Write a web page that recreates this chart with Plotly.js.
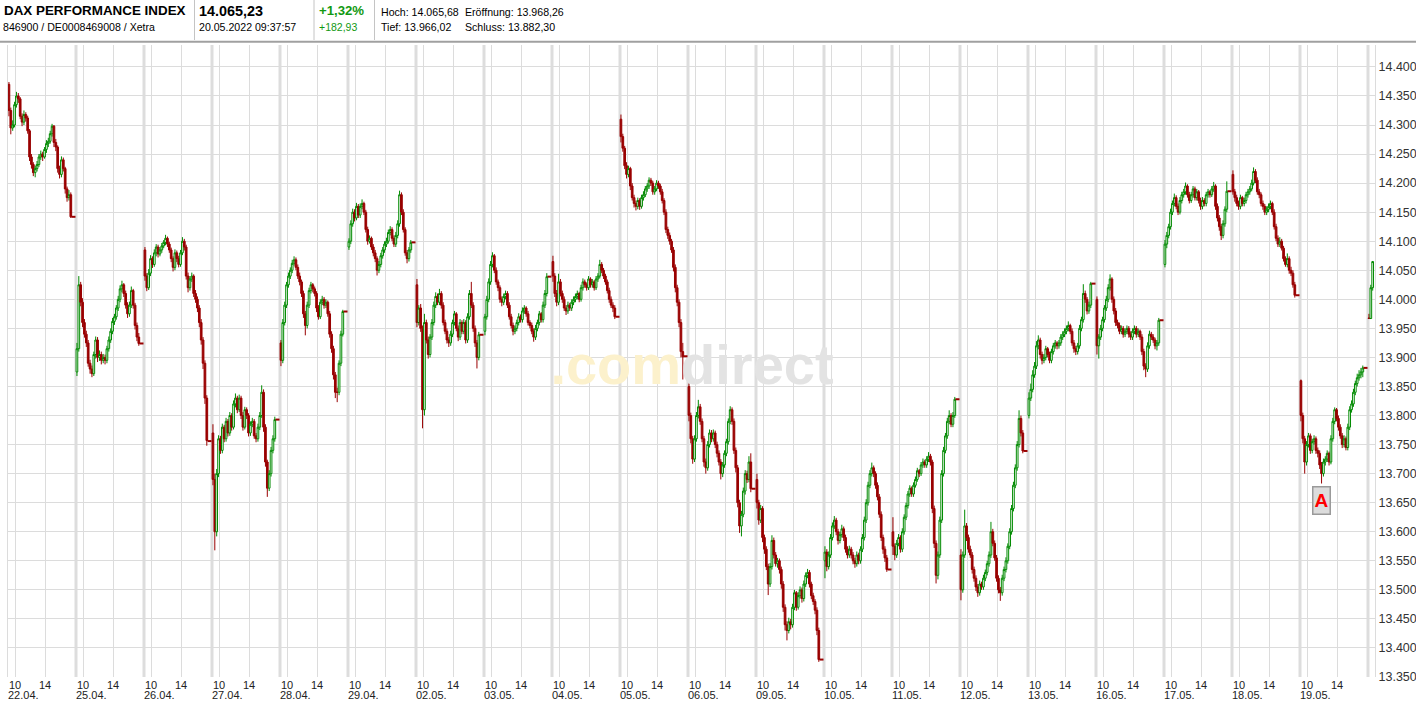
<!DOCTYPE html>
<html>
<head>
<meta charset="utf-8">
<script src="https://cdn.plot.ly/plotly-3.0.1.min.js"></script>
<style>
html,body{margin:0;padding:0;background:#ffffff;}
#chart{width:1416px;height:705px;}
</style>
</head>
<body>
<div id="chart"></div>
<script>
// ---------------- DATA ----------------
const dayLabels = ['22.04.','25.04.','26.04.','27.04.','28.04.','29.04.','02.05.','03.05.','04.05.','05.05.',
                   '06.05.','09.05.','10.05.','11.05.','12.05.','13.05.','16.05.','17.05.','18.05.','19.05.','20.05.'];
const hourTickLabels = ['10','14'];
const yTickValues = [13350,13400,13450,13500,13550,13600,13650,13700,13750,13800,13850,13900,13950,
                     14000,14050,14100,14150,14200,14250,14300,14350,14400];

// 15-minute candles, one row per trading day
const opens = [
[14370,14325,14295,14300,14335,14350,14345,14315,14305,14318,14312,14290,14245,14232,14218,14225,14232,14245,14250,14245,14258,14268,14272,14285,14298,14270,14262,14225,14215,14240,14225,14190,14175,14180],
[13875,13915,14025,13995,13960,13940,13925,13890,13880,13872,13905,13930,13900,13905,13895,13900,13895,13915,13930,13945,13962,13970,13985,14000,14018,14025,14010,13990,13975,13990,14015,13990,13955,13935],
[14085,14040,14020,14045,14070,14060,14080,14090,14078,14085,14092,14098,14105,14095,14085,14070,14055,14080,14070,14060,14080,14100,14090,14040,14020,14035,14040,14010,14000,13985,13960,13930,13890,13830],
[13770,13690,13600,13700,13760,13740,13780,13760,13790,13770,13800,13780,13820,13830,13810,13830,13800,13780,13810,13800,13770,13785,13790,13765,13760,13780,13800,13840,13780,13720,13675,13700,13740,13760],
[13925,13895,13960,13990,14025,14040,14050,14062,14068,14055,14040,14030,14010,13975,13955,13990,14015,14025,14018,14010,13985,13970,13995,14000,13990,13995,13975,13940,13915,13870,13840,13840,13890,13940],
[14090,14100,14130,14150,14140,14160,14145,14160,14165,14150,14120,14100,14105,14090,14080,14070,14050,14060,14075,14085,14095,14100,14115,14120,14105,14095,14110,14130,14180,14150,14120,14080,14070,14085],
[14025,13960,13985,13950,13810,13960,13930,13905,13935,13960,13990,14005,13995,14010,13990,13960,13945,13930,13925,13940,13960,13975,13950,13935,13960,13945,13960,13930,13970,14010,13990,13950,13925,13900],
[13945,13970,14000,14030,14060,14075,14050,14030,14020,14000,13995,14005,14010,13990,13970,13955,13945,13950,13960,13970,13965,13980,13985,13975,13960,13955,13945,13935,13950,13960,13975,13965,13990,14010],
[14065,14040,14010,13995,14030,14010,14000,13985,13980,13990,13985,13995,14000,14005,14010,14000,14020,14030,14025,14020,14035,14025,14030,14020,14035,14040,14060,14050,14040,14030,14015,14000,13990,13985],
[14310,14280,14260,14230,14215,14225,14195,14175,14165,14160,14170,14160,14175,14180,14190,14195,14205,14200,14185,14190,14200,14195,14185,14170,14150,14120,14110,14100,14085,14055,14020,13995,13960,13910],
[13850,13800,13760,13725,13760,13800,13815,13790,13760,13720,13710,13750,13770,13760,13770,13750,13735,13720,13700,13715,13735,13755,13790,13810,13790,13740,13710,13650,13610,13630,13670,13700,13690,13720],
[13690,13650,13620,13640,13590,13570,13540,13510,13540,13585,13560,13545,13550,13535,13510,13470,13440,13430,13445,13440,13470,13495,13470,13490,13500,13485,13510,13525,13530,13510,13490,13480,13465,13430],
[13550,13565,13540,13560,13590,13610,13620,13600,13585,13595,13605,13590,13570,13560,13570,13560,13550,13545,13560,13550,13570,13590,13620,13650,13680,13700,13710,13700,13680,13660,13630,13590,13570,13555],
[13600,13575,13560,13580,13590,13570,13600,13625,13645,13665,13675,13665,13680,13690,13705,13700,13715,13720,13715,13725,13730,13720,13640,13580,13525,13560,13620,13700,13740,13765,13790,13800,13785,13800],
[13560,13500,13560,13610,13590,13570,13560,13535,13520,13505,13495,13510,13505,13520,13530,13545,13560,13600,13580,13555,13520,13500,13495,13520,13535,13550,13575,13600,13640,13680,13710,13750,13795,13770],
[13800,13830,13845,13870,13885,13920,13930,13905,13895,13900,13915,13905,13895,13910,13920,13925,13920,13925,13935,13940,13945,13950,13955,13945,13925,13915,13910,13920,13950,13965,14010,14000,13980,13990],
[14000,13920,13935,13950,13965,13985,14000,14020,14035,14000,13980,13960,13955,13945,13950,13940,13945,13950,13940,13935,13945,13950,13940,13945,13935,13910,13885,13880,13920,13940,13935,13930,13920,13925],
[14060,14095,14110,14125,14150,14165,14175,14160,14150,14170,14180,14185,14195,14180,14170,14180,14190,14175,14185,14170,14160,14170,14165,14180,14185,14180,14190,14195,14160,14140,14125,14110,14130,14155],
[14215,14185,14175,14165,14160,14175,14165,14170,14180,14185,14190,14200,14220,14205,14185,14180,14165,14160,14150,14155,14160,14165,14150,14125,14105,14095,14100,14088,14070,14060,14070,14050,14045,14025],
[13860,13800,13760,13720,13750,13765,13740,13755,13760,13740,13735,13715,13700,13720,13725,13735,13720,13760,13790,13810,13795,13780,13765,13750,13760,13745,13780,13810,13820,13840,13855,13865,13870,13875],
[13968,13967,14020]
];
const highs = [
[14374,14330,14308,14340,14357,14355,14348,14320,14325,14322,14316,14293,14250,14236,14230,14238,14250,14256,14254,14262,14274,14278,14290,14302,14300,14276,14265,14230,14246,14244,14228,14194,14188,14184],
[13925,14040,14030,14002,13966,13946,13930,13896,13886,13910,13936,13935,13912,13910,13906,13905,13920,13936,13950,13968,13975,13990,14006,14024,14032,14028,14015,13995,13996,14022,14018,13994,13960,13942],
[14090,14045,14052,14076,14074,14086,14095,14094,14090,14097,14102,14111,14108,14099,14089,14074,14086,14084,14075,14085,14107,14104,14094,14046,14040,14046,14043,14016,14005,13990,13966,13935,13895,13835],
[13785,13700,13708,13766,13765,13786,13784,13796,13794,13806,13804,13826,13838,13834,13836,13834,13806,13815,13814,13804,13790,13796,13794,13770,13786,13806,13852,13845,13785,13724,13706,13746,13766,13798],
[13930,13966,13996,14030,14046,14055,14068,14074,14072,14060,14046,14034,14015,13980,13996,14020,14030,14028,14022,14014,13990,14000,14006,14004,14000,13998,13980,13945,13920,13875,13848,13895,13946,13982],
[14105,14136,14156,14155,14166,14164,14165,14172,14168,14154,14125,14110,14108,14095,14085,14074,14066,14080,14090,14100,14106,14120,14126,14124,14110,14116,14136,14187,14184,14155,14124,14085,14090,14102],
[14035,13990,13992,13955,13975,13965,13936,13940,13966,13996,14012,14010,14018,14014,13995,13965,13950,13935,13946,13965,13980,13978,13955,13966,13964,13966,13964,13976,14016,14030,13995,13955,13930,13944],
[13975,14006,14036,14066,14081,14078,14055,14034,14024,14005,14010,14015,14014,13995,13975,13960,13955,13965,13976,13974,13986,13990,13988,13980,13964,13960,13950,13956,13965,13980,13978,13996,14016,14045],
[14075,14045,14016,14044,14035,14015,14005,13990,13996,13994,14000,14005,14010,14015,14013,14025,14036,14034,14029,14040,14038,14035,14033,14040,14045,14068,14064,14054,14044,14034,14020,14005,13995,13990],
[14318,14285,14264,14236,14230,14228,14200,14180,14170,14175,14174,14180,14186,14195,14200,14210,14209,14204,14195,14205,14204,14199,14190,14174,14155,14125,14115,14104,14090,14060,14025,14000,13966,13925],
[13855,13805,13765,13766,13806,13827,13820,13795,13765,13726,13756,13776,13775,13776,13774,13755,13740,13725,13720,13740,13760,13795,13816,13814,13795,13745,13715,13655,13636,13676,13706,13705,13730,13735],
[13700,13655,13646,13644,13595,13575,13545,13546,13594,13590,13565,13555,13554,13540,13515,13475,13446,13452,13450,13476,13500,13498,13496,13506,13504,13516,13530,13536,13534,13514,13495,13484,13470,13435],
[13575,13570,13566,13596,13616,13627,13624,13605,13600,13612,13609,13595,13575,13576,13574,13565,13555,13566,13564,13575,13596,13626,13656,13686,13706,13719,13714,13704,13685,13665,13635,13595,13575,13560],
[13625,13580,13586,13596,13594,13606,13630,13650,13670,13680,13678,13685,13695,13710,13708,13720,13726,13724,13730,13737,13734,13724,13645,13585,13566,13626,13706,13746,13770,13796,13809,13804,13806,13832],
[13570,13566,13638,13615,13595,13576,13565,13540,13525,13510,13516,13514,13526,13535,13550,13566,13617,13605,13585,13560,13525,13505,13526,13540,13556,13580,13606,13646,13686,13716,13756,13809,13800,13775],
[13840,13855,13878,13892,13928,13938,13934,13910,13906,13920,13918,13910,13915,13925,13930,13928,13930,13940,13945,13950,13955,13962,13958,13950,13930,13920,13925,13956,13970,14026,14015,14004,13996,14030],
[14005,13940,13956,13970,13990,14006,14026,14043,14038,14005,13985,13965,13960,13955,13954,13950,13955,13954,13945,13950,13955,13954,13950,13948,13940,13915,13890,13926,13946,13944,13940,13934,13930,13968],
[14102,14116,14130,14156,14170,14182,14179,14165,14176,14185,14190,14201,14198,14185,14185,14195,14194,14190,14188,14175,14176,14174,14185,14190,14188,14195,14202,14198,14165,14145,14130,14136,14160,14203],
[14222,14190,14180,14170,14180,14178,14175,14185,14190,14195,14206,14227,14224,14210,14190,14184,14170,14164,14160,14165,14170,14168,14155,14130,14110,14107,14104,14092,14074,14079,14074,14056,14050,14030],
[13862,13805,13765,13756,13770,13769,13760,13766,13764,13745,13740,13720,13726,13730,13740,13738,13766,13796,13814,13813,13800,13785,13770,13766,13764,13786,13816,13826,13846,13860,13872,13878,13882,13886],
[13975,14025,14066]
];
const lows = [
[14315,14284,14290,14296,14330,14338,14310,14298,14300,14306,14285,14238,14225,14212,14210,14220,14228,14240,14238,14242,14252,14262,14268,14280,14262,14255,14218,14208,14210,14220,14182,14168,14170,14140],
[13868,13910,13988,13952,13934,13918,13884,13872,13866,13868,13898,13892,13894,13888,13890,13888,13890,13910,13925,13940,13956,13965,13980,13995,14012,14004,13984,13968,13970,13985,13984,13948,13928,13920],
[14032,14014,14016,14040,14054,14056,14074,14072,14074,14080,14088,14093,14090,14080,14064,14048,14050,14064,14055,14056,14076,14084,14034,14012,14015,14030,14004,13994,13978,13952,13922,13880,13820,13748],
[13680,13568,13592,13694,13734,13735,13754,13755,13764,13765,13774,13776,13814,13804,13806,13794,13774,13776,13794,13764,13765,13780,13760,13754,13755,13775,13796,13772,13712,13660,13670,13695,13735,13755],
[13885,13890,13955,13985,14020,14035,14045,14058,14050,14035,14024,14004,13968,13938,13950,13985,14010,14012,14005,13978,13965,13966,13990,13984,13985,13970,13934,13908,13862,13830,13823,13835,13885,13936],
[14085,14095,14125,14134,14136,14140,14140,14155,14145,14115,14094,14096,14085,14074,14064,14041,14045,14055,14070,14080,14090,14096,14110,14100,14090,14090,14105,14125,14145,14115,14075,14062,14065,14080],
[13952,13955,13944,13778,13800,13924,13898,13900,13930,13955,13985,13990,13990,13984,13955,13940,13924,13918,13920,13935,13955,13945,13928,13930,13940,13940,13924,13925,13965,13985,13944,13918,13881,13895],
[13938,13965,13995,14025,14055,14045,14025,14014,13994,13988,13990,14000,13985,13965,13950,13938,13940,13945,13955,13960,13960,13975,13970,13955,13950,13940,13927,13930,13945,13955,13960,13960,13985,14005],
[14030,14004,13988,13990,14005,13994,13980,13973,13975,13980,13980,13990,13995,14000,13995,13996,14015,14020,14015,14016,14020,14020,14015,14016,14030,14036,14045,14035,14025,14010,13994,13985,13978,13966],
[14270,14254,14224,14208,14210,14188,14170,14158,14153,14155,14154,14156,14170,14176,14185,14190,14195,14180,14180,14186,14190,14180,14165,14145,14114,14104,14094,14080,14048,14012,13988,13952,13900,13862],
[13790,13752,13717,13720,13755,13795,13784,13754,13712,13700,13705,13745,13754,13755,13744,13728,13714,13690,13694,13710,13730,13750,13785,13784,13734,13702,13642,13598,13592,13625,13664,13684,13685,13668],
[13640,13612,13615,13582,13562,13534,13491,13505,13535,13554,13540,13538,13528,13502,13462,13430,13413,13425,13432,13435,13465,13464,13466,13485,13478,13480,13505,13520,13504,13484,13474,13458,13422,13376],
[13520,13532,13535,13555,13585,13605,13594,13578,13580,13590,13584,13564,13554,13555,13554,13544,13538,13540,13544,13545,13565,13585,13615,13645,13675,13695,13694,13674,13654,13624,13584,13562,13548,13531],
[13560,13551,13555,13575,13564,13565,13595,13620,13640,13660,13660,13660,13676,13686,13694,13696,13710,13710,13710,13720,13714,13632,13572,13511,13518,13555,13615,13695,13735,13760,13785,13780,13780,13796],
[13482,13495,13555,13584,13564,13555,13528,13514,13498,13488,13490,13500,13500,13515,13525,13540,13555,13575,13550,13514,13494,13481,13490,13515,13530,13545,13570,13595,13635,13675,13705,13745,13764,13735],
[13795,13825,13840,13865,13880,13914,13898,13888,13890,13895,13900,13890,13890,13905,13915,13914,13915,13920,13930,13935,13940,13945,13940,13920,13908,13904,13905,13915,13945,13960,13994,13974,13975,13985],
[13905,13898,13930,13945,13960,13980,13995,14015,13994,13974,13954,13950,13940,13940,13934,13935,13940,13934,13930,13930,13940,13934,13935,13930,13904,13878,13866,13875,13915,13930,13925,13914,13912,13920],
[14055,14088,14105,14120,14145,14160,14155,14145,14146,14165,14175,14180,14175,14165,14166,14175,14170,14170,14165,14154,14155,14160,14160,14175,14175,14176,14185,14154,14134,14118,14102,14105,14125,14150],
[14180,14168,14160,14154,14155,14160,14160,14165,14175,14180,14186,14196,14200,14180,14174,14160,14154,14145,14145,14150,14155,14145,14120,14100,14090,14090,14084,14065,14056,14055,14044,14040,14020,14003],
[13790,13752,13700,13714,13745,13734,13735,13750,13734,13728,13708,13683,13695,13714,13720,13714,13716,13755,13785,13790,13774,13760,13744,13745,13740,13740,13775,13805,13815,13835,13850,13860,13864,13866],
[13966,13966,14015]
];
const closes = [
[14325,14295,14300,14335,14350,14345,14315,14305,14318,14312,14290,14245,14232,14218,14225,14232,14245,14250,14245,14258,14268,14272,14285,14298,14270,14262,14225,14215,14240,14225,14190,14175,14180,14142],
[13915,14025,13995,13960,13940,13925,13890,13880,13872,13905,13930,13900,13905,13895,13900,13895,13915,13930,13945,13962,13970,13985,14000,14018,14025,14010,13990,13975,13990,14015,13990,13955,13935,13924],
[14040,14020,14045,14070,14060,14080,14090,14078,14085,14092,14098,14105,14095,14085,14070,14055,14080,14070,14060,14080,14100,14090,14040,14020,14035,14040,14010,14000,13985,13960,13930,13890,13830,13757],
[13690,13600,13700,13760,13740,13780,13760,13790,13770,13800,13780,13820,13830,13810,13830,13800,13780,13810,13800,13770,13785,13790,13765,13760,13780,13800,13840,13780,13720,13675,13700,13740,13760,13793],
[13895,13960,13990,14025,14040,14050,14062,14068,14055,14040,14030,14010,13975,13955,13990,14015,14025,14018,14010,13985,13970,13995,14000,13990,13995,13975,13940,13915,13870,13840,13840,13890,13940,13979],
[14100,14130,14150,14140,14160,14145,14160,14165,14150,14120,14100,14105,14090,14080,14070,14050,14060,14075,14085,14095,14100,14115,14120,14105,14095,14110,14130,14180,14150,14120,14080,14070,14085,14098],
[13960,13985,13950,13810,13960,13930,13905,13935,13960,13990,14005,13995,14010,13990,13960,13945,13930,13925,13940,13960,13975,13950,13935,13960,13945,13960,13930,13970,14010,13990,13950,13925,13900,13939],
[13970,14000,14030,14060,14075,14050,14030,14020,14000,13995,14005,14010,13990,13970,13955,13945,13950,13960,13970,13965,13980,13985,13975,13960,13955,13945,13935,13950,13960,13975,13965,13990,14010,14039],
[14040,14010,13995,14030,14010,14000,13985,13980,13990,13985,13995,14000,14005,14010,14000,14020,14030,14025,14020,14035,14025,14030,14020,14035,14040,14060,14050,14040,14030,14015,14000,13990,13985,13970],
[14280,14260,14230,14215,14225,14195,14175,14165,14160,14170,14160,14175,14180,14190,14195,14205,14200,14185,14190,14200,14195,14185,14170,14150,14120,14110,14100,14085,14055,14020,13995,13960,13910,13901],
[13800,13760,13725,13760,13800,13815,13790,13760,13720,13710,13750,13770,13760,13770,13750,13735,13720,13700,13715,13735,13755,13790,13810,13790,13740,13710,13650,13610,13630,13670,13700,13690,13720,13674],
[13650,13620,13640,13590,13570,13540,13510,13540,13585,13560,13545,13550,13535,13510,13470,13440,13430,13445,13440,13470,13495,13470,13490,13500,13485,13510,13525,13530,13510,13490,13480,13465,13430,13380],
[13565,13540,13560,13590,13610,13620,13600,13585,13595,13605,13590,13570,13560,13570,13560,13550,13545,13560,13550,13570,13590,13620,13650,13680,13700,13710,13700,13680,13660,13630,13590,13570,13555,13535],
[13575,13560,13580,13590,13570,13600,13625,13645,13665,13675,13665,13680,13690,13705,13700,13715,13720,13715,13725,13730,13720,13640,13580,13525,13560,13620,13700,13740,13765,13790,13800,13785,13800,13828],
[13500,13560,13610,13590,13570,13560,13535,13520,13505,13495,13510,13505,13520,13530,13545,13560,13600,13580,13555,13520,13500,13495,13520,13535,13550,13575,13600,13640,13680,13710,13750,13795,13770,13739],
[13830,13845,13870,13885,13920,13930,13905,13895,13900,13915,13905,13895,13910,13920,13925,13920,13925,13935,13940,13945,13950,13955,13945,13925,13915,13910,13920,13950,13965,14010,14000,13980,13990,14027],
[13920,13935,13950,13965,13985,14000,14020,14035,14000,13980,13960,13955,13945,13950,13940,13945,13950,13940,13935,13945,13950,13940,13945,13935,13910,13885,13880,13920,13940,13935,13930,13920,13925,13964],
[14095,14110,14125,14150,14165,14175,14160,14150,14170,14180,14185,14195,14180,14170,14180,14190,14175,14185,14170,14160,14170,14165,14180,14185,14180,14190,14195,14160,14140,14125,14110,14130,14155,14186],
[14185,14175,14165,14160,14175,14165,14170,14180,14185,14190,14200,14220,14205,14185,14180,14165,14160,14150,14155,14160,14165,14150,14125,14105,14095,14100,14088,14070,14060,14070,14050,14045,14025,14007],
[13800,13760,13720,13750,13765,13740,13755,13760,13740,13735,13715,13700,13720,13725,13735,13720,13760,13790,13810,13795,13780,13765,13750,13760,13745,13780,13810,13820,13840,13855,13865,13870,13875,13882],
[13967,14020,14065]
];
// closing auction price of each full trading day
const closingAuction = [14142,13924,13756,13793,13979,14098,13939,14039,13970,13902,13674,13380,13535,13828,13739,14027,13964,14186,14007,13882];

// header texts
const headerTitle = 'DAX PERFORMANCE INDEX';
const headerIsin = '846900 / DE0008469008 / Xetra';
const headerPrice = '14.065,23';
const headerTime = '20.05.2022 09:37:57';
const headerPct = '+1,32%';
const headerAbs = '+182,93';
const headerStats = [['Hoch: 14.065,68','Eröffnung: 13.968,26'],['Tief: 13.966,02','Schluss: 13.882,30']];

// ---------------- GEOMETRY ----------------
const W = 1416, H = 705;
const M = {l: 8, r: 41, t: 45, b: 28};
const PW = W - M.l - M.r, PH = H - M.t - M.b;
const DAY_PX = 68;          // width of one trading day in pixels
const BAR_PX = 1.875;       // one 15-minute bar
const PX_PER_POINT = 0.58105;
const yMin = 13350, yMax = yMin + PH / PX_PER_POINT;
const xMax = PW / DAY_PX;

const px2x = px => (px - M.l) / PW;      // paper x from pixel
const py2y = py => (H - M.b - py) / PH;  // paper y from pixel

// ---------------- TRACES ----------------
const X = [], O = [], Hh = [], Lo = [], C = [];
opens.forEach((row, d) => {
  row.forEach((v, k) => {
    X.push(d + (k + 0.5) * BAR_PX / DAY_PX);
    O.push(v); Hh.push(highs[d][k]); Lo.push(lows[d][k]); C.push(closes[d][k]);
  });
});

const aucX = [], aucY = [];
closingAuction.forEach((v, d) => {
  aucX.push(d + 63.5 / DAY_PX, d + 67.5 / DAY_PX, null);
  aucY.push(v, v, null);
});

const watermark = {
  type: 'scatter', mode: 'text',
  x: [(692 - M.l) / DAY_PX], y: [13878],
  text: ['<span style="color:#fcf1cc">.com</span><span style="color:#e3e3e3">direct</span>'],
  textposition: 'middle center',
  textfont: {family: 'Liberation Sans, Arial, sans-serif', size: 56, weight: 700},
  hoverinfo: 'none', showlegend: false
};

const candles = {
  type: 'candlestick',
  x: X, open: O, high: Hh, low: Lo, close: C,
  increasing: {line: {color: '#008a00', width: 1}, fillcolor: '#ffffff'},
  decreasing: {line: {color: '#990000', width: 1}, fillcolor: '#990000'},
  whiskerwidth: 0,
  hoverinfo: 'none', showlegend: false
};

const auction = {
  type: 'scatter', mode: 'lines', x: aucX, y: aucY,
  line: {color: '#990000', width: 2},
  hoverinfo: 'none', showlegend: false
};

// ---------------- AXES ----------------
const xTickVals = [], xTickText = [];
for (let d = 0; d < dayLabels.length - 1; d++) {
  xTickVals.push(d + 7 / DAY_PX, d + 37 / DAY_PX);
  xTickText.push(hourTickLabels[0], hourTickLabels[1]);
}

const shapes = [];
for (let d = 1; d < dayLabels.length; d++) {
  shapes.push({type: 'line', xref: 'x', yref: 'paper', x0: d, x1: d, y0: 0, y1: 1,
               line: {color: '#dddddd', width: 3}, layer: 'below'});
}
// header frame lines
[194.5, 314, 374.5].forEach(px => {
  shapes.push({type: 'line', xref: 'paper', yref: 'paper', x0: px2x(px), x1: px2x(px),
               y0: py2y(0), y1: py2y(40), line: {color: '#c4c4c4', width: 1}});
});
shapes.push({type: 'line', xref: 'paper', yref: 'paper', x0: px2x(0), x1: px2x(W),
             y0: py2y(41.7), y1: py2y(41.7), line: {color: '#a0a0a0', width: 2}});

const annotations = [];
dayLabels.forEach((lab, d) => {
  if (d >= dayLabels.length - 1) return;
  annotations.push({text: lab, xref: 'x', yref: 'paper', x: d, y: py2y(694.5),
    xanchor: 'left', yanchor: 'middle', xshift: -2, showarrow: false,
    font: {size: 11, color: '#222222'}});
});
function hdr(text, px, py, size, bold, color) {
  annotations.push({text: bold ? '<b>' + text + '</b>' : text, xref: 'paper', yref: 'paper',
    x: px2x(px), y: py2y(py), xanchor: 'left', yanchor: 'middle', showarrow: false,
    borderpad: 0, font: {size: size, color: color || '#000000'}});
}
hdr(headerTitle, 2.5, 11, 13.4, true);
hdr(headerIsin, 2, 27.5, 10.6, false);
hdr(headerPrice, 198, 11, 14.4, true);
hdr(headerTime, 198, 27.5, 10.6, false);
hdr(headerPct, 317.5, 11, 13.2, true, '#119911');
hdr(headerAbs, 317.5, 27.5, 10.5, false, '#119911');
hdr(headerStats[0][0], 379.5, 12, 10.6, false);
hdr(headerStats[0][1], 464, 12, 10.6, false);
hdr(headerStats[1][0], 379.5, 27.5, 10.6, false);
hdr(headerStats[1][1], 464, 27.5, 10.6, false);

// signal marker "A"
annotations.push({text: '<b>A</b>', xref: 'x', yref: 'y', x: (1321.5 - M.l) / DAY_PX, y: 13654,
  showarrow: false, font: {size: 19, color: '#ff0000'}, bgcolor: '#dcdcdc',
  bordercolor: '#9a9a9a', borderwidth: 1.5, borderpad: 1, width: 14, height: 24});

const layout = {
  width: W, height: H,
  margin: M,
  paper_bgcolor: '#ffffff', plot_bgcolor: '#ffffff',
  font: {family: 'Liberation Sans, Arial, sans-serif', color: '#222222'},
  separators: ',.',
  showlegend: false,
  dragmode: false,
  boxgap: 0.05, boxgroupgap: 0.05,
  xaxis: {
    range: [0, xMax], tickmode: 'array', tickvals: xTickVals, ticktext: xTickText,
    showgrid: true, gridcolor: '#dcdcdc', gridwidth: 1, zeroline: false,
    ticks: '', tickfont: {size: 11, color: '#222222'},
    showline: false, rangeslider: {visible: false}, fixedrange: true
  },
  yaxis: {
    range: [yMin, yMax], side: 'right', tickmode: 'array', tickvals: yTickValues,
    tickformat: ',d', showgrid: true, gridcolor: '#dcdcdc', gridwidth: 1, zeroline: false,
    ticks: '', tickfont: {size: 12.5, color: '#333333'},
    showline: true, linecolor: '#dcdcdc', linewidth: 1, mirror: true, fixedrange: true
  },
  shapes: shapes,
  annotations: annotations
};

Plotly.newPlot('chart', [watermark, candles, auction], layout, {displayModeBar: false, staticPlot: true});
</script>
</body>
</html>
